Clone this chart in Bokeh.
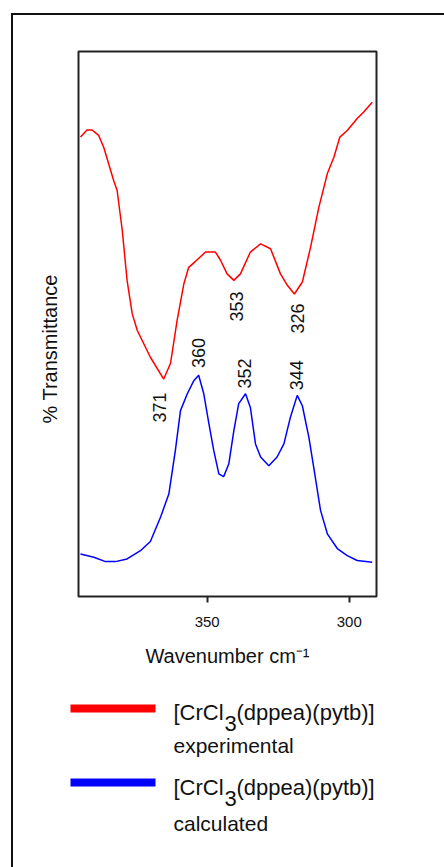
import numpy as np
from bokeh.plotting import figure
from bokeh.layouts import column
from bokeh.models import Range1d, FixedTicker, ColumnDataSource, Title
from bokeh.core.properties import value
from bokeh.embed import file_html
from bokeh.resources import INLINE

# ---------------- data ----------------
exp_wavenumber = [394.6, 392.3, 390.5, 388.2, 386.4, 382.9, 381.7, 379.9, 378.2, 376.4,
                  374.6, 370.0, 365.3, 362.9, 360.6, 358.2, 356.5, 354.1, 350.6, 347.1,
                  345.3, 343.0, 340.6, 338.3, 334.8, 331.2, 327.7, 324.2, 321.8, 319.3,
                  316.5, 313.6, 310.7, 307.7, 305.4, 303.3, 300.7, 297.2, 294.9, 291.9]
exp_transmittance = [84.3, 85.6, 85.6, 84.6, 82.4, 76.3, 74.5, 67.2, 58.0, 51.9,
                     48.8, 43.9, 39.9, 42.8, 50.6, 57.4, 60.4, 61.5, 63.2, 63.2,
                     61.7, 59.2, 58.0, 59.2, 63.2, 64.7, 63.8, 59.2, 57.1, 55.5,
                     57.7, 64.1, 71.4, 77.6, 80.6, 84.3, 85.5, 87.7, 88.9, 90.7]

calc_wavenumber = [394.6, 389.9, 385.8, 382.3, 378.2, 373.5, 370.0, 366.4, 363.5, 361.2,
                   359.4, 357.0, 354.7, 353.0, 351.2, 349.4, 347.7, 345.9, 344.2, 342.4,
                   340.6, 338.9, 336.5, 334.8, 333.0, 331.2, 328.3, 325.4, 323.0, 320.7,
                   318.3, 316.5, 314.2, 312.5, 310.1, 307.7, 304.2, 300.7, 297.2, 291.9]
calc_transmittance = [7.8, 7.2, 6.4, 6.4, 6.9, 8.4, 10.1, 14.6, 18.8, 26.8,
                      34.1, 37.2, 39.6, 40.6, 37.2, 31.7, 26.8, 22.5, 22.0, 24.3,
                      30.5, 35.4, 37.2, 34.7, 28.0, 25.6, 24.0, 25.6, 28.0, 32.9,
                      36.9, 35.0, 29.2, 23.7, 15.8, 11.5, 8.8, 7.5, 6.6, 6.3]

exp_peak_labels = ["371", "353", "326"]
exp_peak_label_x = [366.7, 339.7, 318.2]
exp_peak_label_y = [34.7, 53.2, 51.0]
calc_peak_labels = ["360", "352", "344"]
calc_peak_label_x = [353.0, 336.9, 318.6]
calc_peak_label_y = [44.7, 40.9, 40.6]

x_ticks = [300, 350, 400]
x_title = "Wavenumber cm\u207b\u00b9"
y_title = "% Transmittance"
legend_compound = ["[CrCl", "3", "(dppea)(pytb)]"]
legend_kinds = ["experimental", "calculated"]
legend_colors = ["#ff0000", "#0000ff"]

# ---------------- layout constants ----------------
PAGE_W, PAGE_H = 444, 867
BX, BY = 11, 13            # outer border position on the page
INNER_X, INNER_Y = BX + 2, BY + 2
FL, FR, FT, FB = 78, 376, 51, 596   # plot frame on the page
MAIN_BOTTOM = 680
FONT = "Liberation Sans"
TXT = "#111111"

main_w = PAGE_W - INNER_X
main_h = MAIN_BOTTOM - INNER_Y

p = figure(width=main_w, height=main_h, output_backend="svg", toolbar_location=None,
           x_range=Range1d(395.3, 290.4), y_range=Range1d(0, 100),
           min_border_left=FL - INNER_X, min_border_right=PAGE_W - FR,
           min_border_top=FT - INNER_Y, min_border_bottom=MAIN_BOTTOM - FB)
p.frame_align = False
p.grid.visible = False
p.background_fill_color = "white"
p.border_fill_color = "white"
p.outline_line_color = "#222222"
p.outline_line_width = 2

xa = p.xaxis[0]
xa.ticker = FixedTicker(ticks=x_ticks)
xa.minor_tick_line_color = None
xa.major_tick_in = 0
xa.major_tick_out = 6
xa.major_tick_line_width = 2
xa.major_tick_line_color = "#222222"
xa.axis_line_color = None
xa.major_label_text_font = FONT
xa.major_label_text_font_size = "15px"
xa.major_label_text_color = TXT
xa.major_label_standoff = 14
xa.axis_label = x_title
xa.axis_label_text_font = FONT
xa.axis_label_text_font_size = "20px"
xa.axis_label_text_font_style = "normal"
xa.axis_label_text_color = TXT
xa.axis_label_standoff = 15

p.yaxis.visible = False
p.add_layout(Title(text=y_title, align="left", offset=173, standoff=36,
                   text_font=FONT, text_font_size="20px", text_font_style="normal",
                   text_color=TXT), "left")

p.line(exp_wavenumber, exp_transmittance, line_color=legend_colors[0], line_width=1.5)
p.line(calc_wavenumber, calc_transmittance, line_color=legend_colors[1], line_width=1.5)

lab_src = ColumnDataSource(dict(x=exp_peak_label_x + calc_peak_label_x,
                                y=exp_peak_label_y + calc_peak_label_y,
                                t=exp_peak_labels + calc_peak_labels))
p.text(x="x", y="y", text="t", source=lab_src, angle=np.pi / 2,
       text_align="center", text_baseline="middle",
       text_font=value(FONT), text_font_size=value("18px"), text_color=TXT)

# ---------------- legend panel ----------------
leg_w = main_w
leg_h = PAGE_H - MAIN_BOTTOM
lg = figure(width=leg_w, height=leg_h, output_backend="svg", toolbar_location=None,
            x_range=Range1d(INNER_X, PAGE_W), y_range=Range1d(PAGE_H, MAIN_BOTTOM),
            min_border=0, min_border_left=0, min_border_right=0,
            min_border_top=0, min_border_bottom=0)
lg.frame_align = False
lg.axis.visible = False
lg.grid.visible = False
lg.outline_line_color = None
lg.background_fill_color = "white"
lg.border_fill_color = "white"

swatch_y = [708, 782]
base_main = [712, 787]
base_kind = [745, 823]
lg.segment(x0=[70, 70], y0=swatch_y, x1=[155, 155], y1=swatch_y,
           line_color=legend_colors, line_width=8, line_cap="butt")

tx, ty, tt = [], [], []
for i in range(2):
    for txt, lx, dy in [(legend_compound[0], 173, 0), (legend_compound[1], 224, 11),
                        (legend_compound[2], 236, 0)]:
        tx.append(lx)
        ty.append(base_main[i] + dy)
        tt.append(txt)
lg.text(x=tx, y=ty, text=tt, text_align="left", text_baseline="alphabetic",
        text_font=value(FONT), text_font_size=value("22px"), text_color=TXT)
lg.text(x=[173, 173], y=base_kind, text=legend_kinds, text_align="left",
        text_baseline="alphabetic",
        text_font=value(FONT), text_font_size=value("21px"), text_color=TXT)

layout = column(p, lg, spacing=0,
                margin=(BY, 0, 0, BX),
                styles={"border-left": "2px solid #111111",
                        "border-top": "2px solid #111111"})

open("out.html", "w").write(file_html(layout, INLINE))
